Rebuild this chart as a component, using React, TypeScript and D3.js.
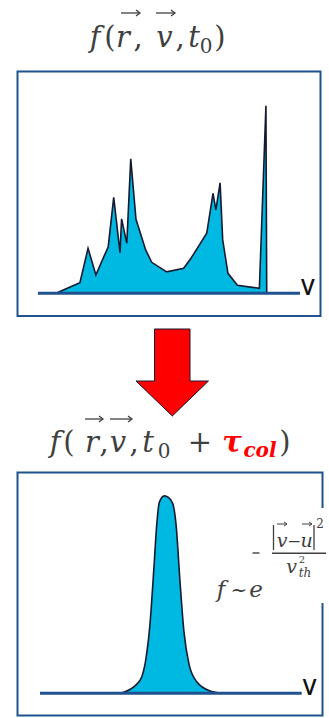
import React from "react";
import * as d3 from "d3";

// Non-equilibrium distribution at t0: velocity grid and density values
const initV = [6.9, 11.6, 16.0, 19.1, 22.1, 26.8, 28.9, 31.3, 31.9, 33.9, 35.4, 37.4, 41.1, 43.4, 49.1, 55.6, 58.4, 64.4, 66.8, 67.9, 69.5, 70.5, 72.5, 76.1, 84.5, 87.0, 87.3];
const initF = [0, 2.8, 5.3, 22.5, 9.2, 23.3, 48, 20.3, 37.2, 25, 67.2, 37, 21.7, 15.5, 10.7, 12.5, 17.5, 30, 50, 41.7, 55.2, 26.7, 10, 4, 2.5, 93.8, 0];

// Relaxed (Maxwellian-like) distribution after one collision time
const eqV = [30.6, 36.7, 38.9, 40.5, 42.0, 43.6, 44.6, 45.6, 47.5, 49.0, 50.7, 52.0, 53.5, 55.0, 57.0, 59.9, 65.0, 70.0];
const eqF = [0, 4.2, 8.3, 17.5, 34.2, 64.2, 84.2, 95.5, 98.7, 98, 95, 84.2, 55.8, 30.8, 14.2, 5.8, 1.2, 0];

const axisLabel = "V";

const BOX = "#1f528f";
const FILL = "#00b9e2";
const INK = "#141a30";
const TEXT = "#404040";
const MATH = "'DejaVu Serif', serif";

type Pt = { v: number; f: number };

function zip(vs: number[], fs: number[]): Pt[] {
  return vs.map((v, i) => ({ v, f: fs[i] }));
}

function VecArrow({ x1, x2, y, w = 1.3 }: { x1: number; x2: number; y: number; w?: number }) {
  const h = w > 1 ? 3 : 2;
  return (
    <g stroke={TEXT} strokeWidth={w} fill="none">
      <line x1={x1} y1={y} x2={x2} y2={y} />
      <path d={`M${x2 - h - 1},${y - h} L${x2},${y} L${x2 - h - 1},${y + h}`} />
    </g>
  );
}

// Glyph placed by its centre
function G({ x, y, s, italic = true, size, fill, bold }: {
  x: number; y: number; s: string; italic?: boolean; size?: number; fill?: string; bold?: boolean;
}) {
  return (
    <text x={x} y={y} textAnchor="middle" fontStyle={italic ? "italic" : "normal"}
      fontSize={size} fill={fill} fontWeight={bold ? "bold" : "normal"}>{s}</text>
  );
}

function Panel({
  vs, fs, x0, x1, yBase, yTop, curve,
}: {
  vs: number[]; fs: number[]; x0: number; x1: number; yBase: number; yTop: number;
  curve: d3.CurveFactory;
}) {
  const data = zip(vs, fs);
  const x = d3.scaleLinear().domain([0, 100]).range([x0, x1]);
  const y = d3.scaleLinear().domain([0, 100]).range([yBase, yTop]);
  const area = d3.area<Pt>().x((d) => x(d.v)).y0(y(0)).y1((d) => y(d.f)).curve(curve);
  const line = d3.line<Pt>().x((d) => x(d.v)).y((d) => y(d.f)).curve(curve);
  return (
    <g>
      <path d={area(data) ?? ""} fill={FILL} />
      <path d={line(data) ?? ""} fill="none" stroke={INK} strokeWidth={1.6} strokeLinejoin="miter" />
      <line x1={x(0)} x2={x(100)} y1={y(0)} y2={y(0)} stroke={BOX} strokeWidth={3} />
      <text x={x(100) + 1} y={y(0) + 2} fontFamily="'Open Sans', sans-serif" fontWeight={600}
        fontSize={22} fill="#111">{axisLabel}</text>
    </g>
  );
}

export default function App() {
  return (
    <svg width={329} height={718} style={{ position: "absolute", left: 0, top: 0, background: "#fff" }}>
      {/* Title: f(r, v, t0) */}
      <g fontFamily={MATH} fill={TEXT} fontSize={29}>
        <G x={95} y={47} s="f" />
        <G x={110} y={47} s="(" italic={false} />
        <G x={123} y={47} s="r" />
        <G x={138} y={47} s="," italic={false} />
        <G x={164.5} y={47} s="v" />
        <G x={180} y={47} s="," italic={false} />
        <G x={194} y={47} s="t" />
        <G x={206} y={53} s="0" italic={false} size={20} />
        <G x={220} y={47} s=")" italic={false} />
      </g>
      <VecArrow x1={121} x2={140} y={13} />
      <VecArrow x1={156} x2={175} y={13} />

      {/* Top panel */}
      <rect x={17.5} y={71.5} width={303} height={244.5} fill="none" stroke={BOX} strokeWidth={2} />
      <Panel vs={initV} fs={initF} x0={38} x1={300} yBase={293.3} yTop={93.3} curve={d3.curveLinear} />

      {/* Arrow between panels */}
      <path d="M154.5,329 L190,329 L190,381 L208.5,381 L172.3,416 L136,381 L154.5,381 Z"
        fill="#ff0000" stroke={INK} strokeWidth={1} />

      {/* Title: f(r, v, t0 + τcol) */}
      <g fontFamily={MATH} fill={TEXT} fontSize={29}>
        <G x={55} y={452} s="f" />
        <G x={69} y={452} s="(" italic={false} />
        <G x={92} y={452} s="r" />
        <G x={104} y={452} s="," italic={false} />
        <G x={118} y={452} s="v" />
        <G x={134} y={452} s="," italic={false} />
        <G x={148} y={452} s="t" />
        <G x={164} y={458} s="0" italic={false} size={20} />
        <G x={200} y={452} s="+" italic={false} />
        <G x={232} y={452} s="τ" fill="#ff0000" bold />
        <G x={260} y={457} s="col" size={20} fill="#ff0000" bold />
        <G x={285} y={452} s=")" italic={false} />
      </g>
      <VecArrow x1={85} x2={103} y={419} />
      <VecArrow x1={110} x2={132} y={419} />

      {/* Bottom panel */}
      <rect x={17.5} y={472.5} width={305} height={243} fill="none" stroke={BOX} strokeWidth={2} />
      <Panel vs={eqV} fs={eqF} x0={40} x1={301.7} yBase={693.3} yTop={493.3} curve={d3.curveMonotoneX} />

      {/* Maxwellian formula */}
      <rect x={246} y={508} width={83} height={95} fill="#fff" />
      <g fontFamily={MATH} fill={TEXT}>
        <G x={221} y={597} s="f" size={23} />
        <G x={239} y={597} s="~" italic={false} size={20} />
        <G x={256} y={597} s="e" size={23} />
        <line x1={252.5} x2={259.5} y1={553} y2={553} stroke={TEXT} strokeWidth={1.4} />
        <line x1={272} x2={326} y1={553.3} y2={553.3} stroke={TEXT} strokeWidth={1.5} />
        <line x1={273.5} x2={273.5} y1={525} y2={550} stroke={TEXT} strokeWidth={1.3} />
        <G x={282} y={547} s="v" size={19} />
        <G x={294} y={547} s="−" italic={false} size={17} />
        <G x={306.5} y={547} s="u" size={19} />
        <line x1={314} x2={314} y1={525} y2={550} stroke={TEXT} strokeWidth={1.3} />
        <G x={320} y={528} s="2" italic={false} size={12} />
        <G x={291.5} y={573} s="v" size={19} />
        <G x={302} y={563} s="2" italic={false} size={10} />
        <G x={305} y={577} s="th" size={12} />
      </g>
      <VecArrow x1={277} x2={287} y={524} w={1} />
      <VecArrow x1={302} x2={312} y={524} w={1} />
    </svg>
  );
}
